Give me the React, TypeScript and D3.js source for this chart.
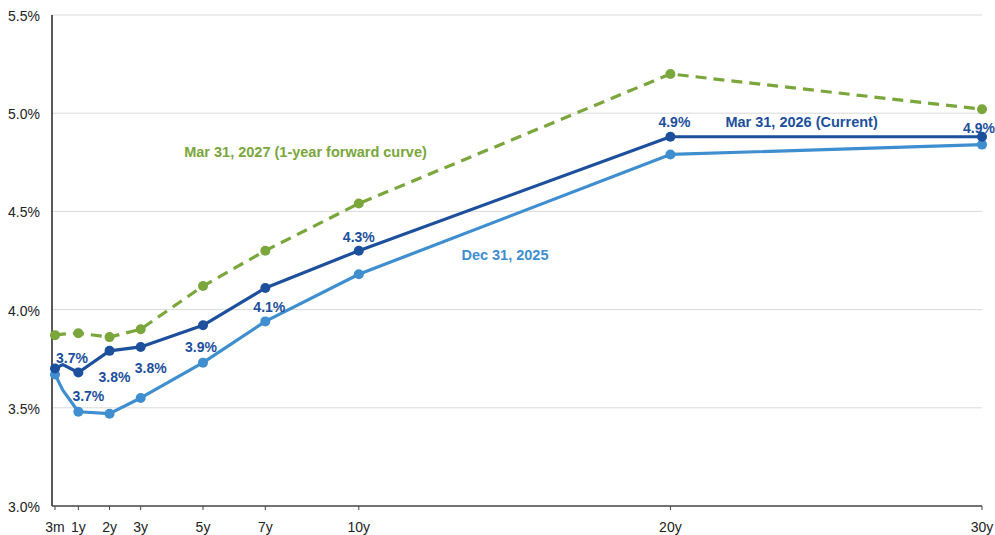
import React from 'react';
import * as d3 from 'd3';

// maturities in years (6m has no marker / tick)
const maturities = ['3m', '6m', '1y', '2y', '3y', '5y', '7y', '10y', '20y', '30y'];
const years = [0.25, 0.5, 1, 2, 3, 5, 7, 10, 20, 30];
const markerShown = [true, false, true, true, true, true, true, true, true, true];

const tickYears = [0.25, 1, 2, 3, 5, 7, 10, 20, 30];
const tickLabels = ['3m', '1y', '2y', '3y', '5y', '7y', '10y', '20y', '30y'];
const yTicks = [3.0, 3.5, 4.0, 4.5, 5.0, 5.5];

const current2026 = [3.70, 3.72, 3.68, 3.79, 3.81, 3.92, 4.11, 4.30, 4.88, 4.88];
const dec2025 = [3.67, 3.59, 3.48, 3.47, 3.55, 3.73, 3.94, 4.18, 4.79, 4.84];
const forward2027 = [3.87, 3.875, 3.88, 3.86, 3.90, 4.12, 4.30, 4.54, 5.20, 5.02];

// data labels on the current curve (index into maturities)
const labelIdx = [0, 2, 3, 4, 5, 6, 7, 8, 9];
const labelText = ['3.7%', '3.7%', '3.8%', '3.8%', '3.9%', '4.1%', '4.3%', '4.9%', '4.9%'];
// pixel offsets from the point
const labelOffset: [number, number][] = [
  [17, -11], [10, 24], [5, 26], [10, 21], [-2, 22], [4, 19], [0, -14], [4, -15], [-3, -9],
];

const COLORS = {
  current: '#1c4f9c',
  dec: '#3e8ed0',
  fwd: '#7aa63b',
  grid: '#d9d9d9',
  axis: '#222',
};

const W = 995;
const H = 535;
const FONT = '"Liberation Sans", Arial, Helvetica, sans-serif';

export default function App() {
  const x = d3.scaleLinear().domain([0.25, 30]).range([55, 982]);
  const y = d3.scaleLinear().domain([3.0, 5.5]).range([506, 15]);
  const left = 52;
  const right = 982;

  const line = d3
    .line<number>()
    .x((_, i) => x(years[i]))
    .y(d => y(d));

  const series = [
    { name: 'dec', values: dec2025, color: COLORS.dec, dash: undefined as string | undefined },
    { name: 'fwd', values: forward2027, color: COLORS.fwd, dash: '11 7' },
    { name: 'cur', values: current2026, color: COLORS.current, dash: undefined },
  ];

  return (
    <svg
      width={W}
      height={H}
      style={{ position: 'absolute', left: 0, top: 0, background: '#fff' }}
      fontFamily={FONT}
    >
      {/* grid */}
      {yTicks.slice(1).map(t => (
        <line key={t} x1={left} x2={right} y1={y(t)} y2={y(t)} stroke={COLORS.grid} strokeWidth={1} />
      ))}

      {/* y labels */}
      {yTicks.map(t => (
        <text key={t} x={40} y={y(t) + 1} textAnchor="end" dominantBaseline="central" fontSize={14} fill="#222">
          {t.toFixed(1)}%
        </text>
      ))}

      {/* axes */}
      <line x1={left} x2={left} y1={y(5.5)} y2={y(3.0)} stroke={COLORS.axis} strokeWidth={1.5} />
      <line x1={left} x2={right} y1={y(3.0)} y2={y(3.0)} stroke="#444" strokeWidth={1.5} />
      {tickYears.map((t, i) => (
        <g key={tickLabels[i]}>
          <line x1={x(t)} x2={x(t)} y1={y(3.0)} y2={y(3.0) + 4} stroke="#444" strokeWidth={1} />
          <text x={x(t)} y={527} textAnchor="middle" dominantBaseline="central" fontSize={14} fill="#222">
            {tickLabels[i]}
          </text>
        </g>
      ))}

      {/* lines */}
      {series.map(s => (
        <g key={s.name}>
          <path
            d={line(s.values) ?? ''}
            fill="none"
            stroke={s.color}
            strokeWidth={3.2}
            strokeDasharray={s.dash}
            strokeLinejoin="round"
          />
          {s.values.map((v, i) =>
            markerShown[i] ? (
              <circle key={maturities[i]} cx={x(years[i])} cy={y(v)} r={5} fill={s.color} />
            ) : null
          )}
        </g>
      ))}

      {/* data labels */}
      {labelIdx.map((idx, k) => (
        <text
          key={k}
          x={x(years[idx]) + labelOffset[k][0]}
          y={y(current2026[idx]) + labelOffset[k][1]}
          textAnchor="middle"
          dominantBaseline="central"
          fontSize={14}
          fontWeight="bold"
          fill={COLORS.current}
        >
          {labelText[k]}
        </text>
      ))}

      {/* series names */}
      <text x={x(8.29)} y={y(4.804)} textAnchor="middle" dominantBaseline="central" fontSize={14.5} fontWeight="bold" fill={COLORS.fwd}>
        Mar 31, 2027 (1-year forward curve)
      </text>
      <text x={x(24.21)} y={y(4.954)} textAnchor="middle" dominantBaseline="central" fontSize={14.5} fontWeight="bold" fill={COLORS.current}>
        Mar 31, 2026 (Current)
      </text>
      <text x={x(14.69)} y={y(4.278)} textAnchor="middle" dominantBaseline="central" fontSize={14.5} fontWeight="bold" fill={COLORS.dec}>
        Dec 31, 2025
      </text>
    </svg>
  );
}
